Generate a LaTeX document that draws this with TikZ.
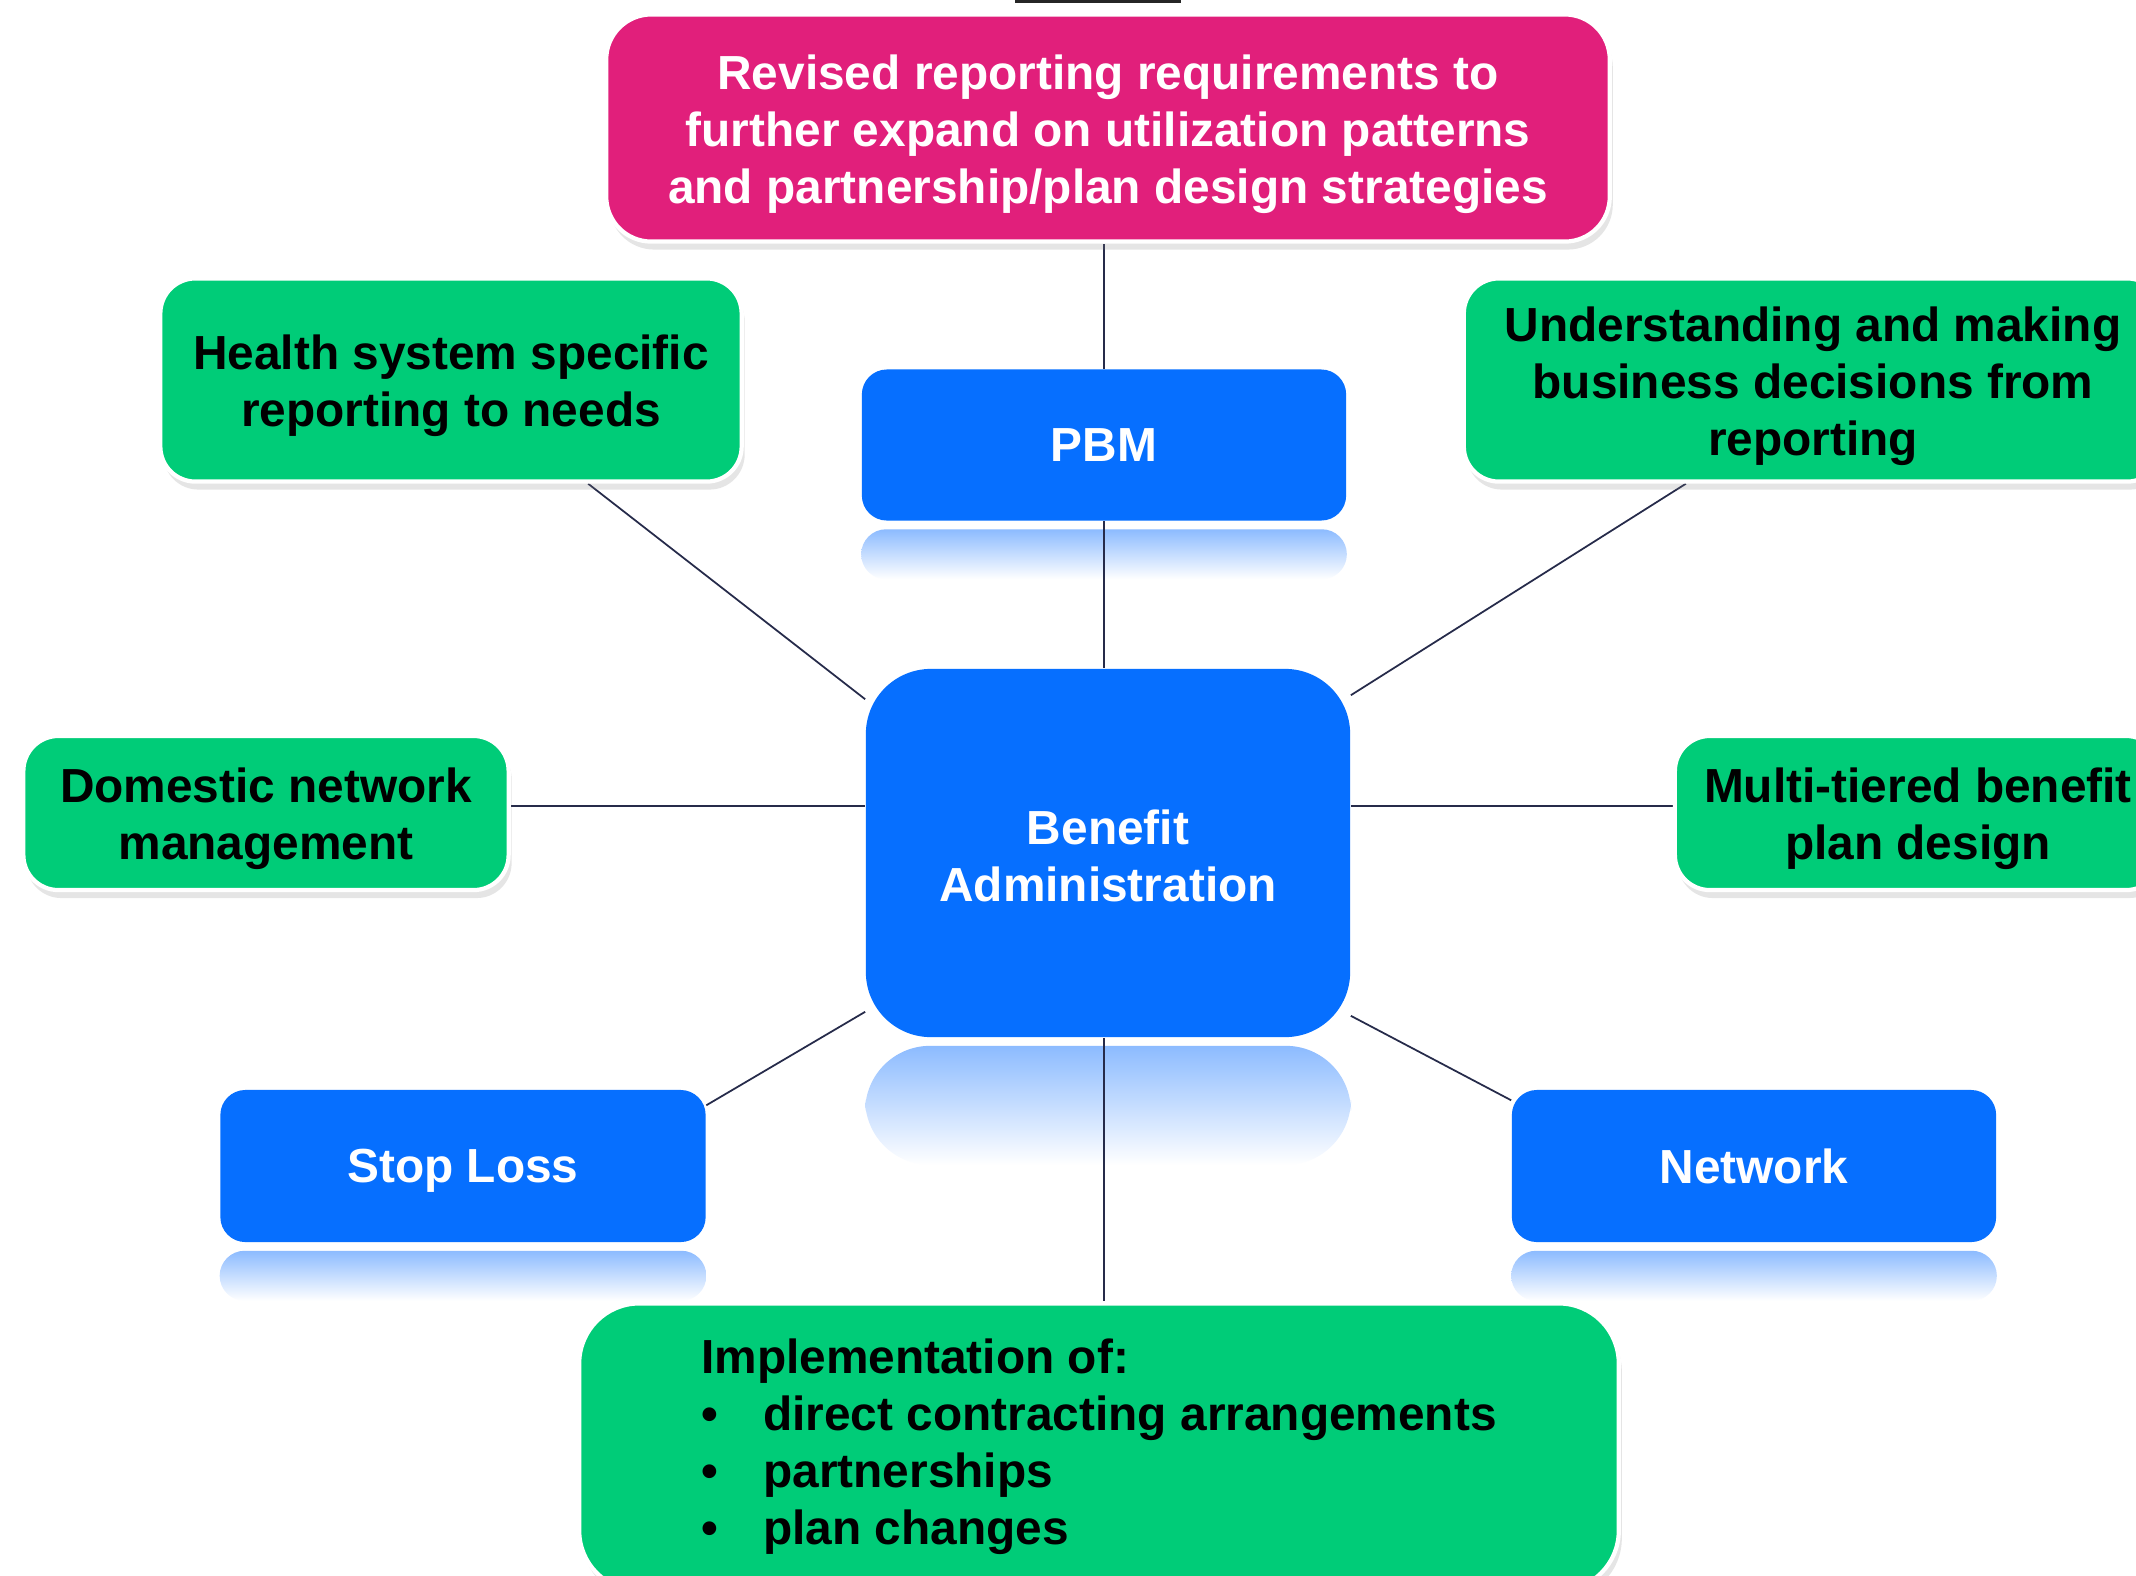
\documentclass[tikz,border=0pt]{standalone}
\usepackage{fontspec}
\setmainfont{Liberation Sans}
\usetikzlibrary{shadows}

\definecolor{cPink}{HTML}{E11F7B}
\definecolor{cBlue}{HTML}{066FFF}
\definecolor{cGreen}{HTML}{00CC78}
\definecolor{cLink}{HTML}{262B4A}
\definecolor{cMirror}{HTML}{8CBBFF}

% first line as tall as the slide's line box
\newcommand{\tstrut}[1][13.2pt]{\rule{0pt}{#1}}

\pgfdeclarelayer{back}
\pgfdeclarelayer{background}
\pgfsetlayers{back,background,main}

\begin{document}
\begin{tikzpicture}[
    x=0.01cm, y=-0.01cm,
    every node/.style={rectangle, align=center, inner sep=0pt, font=\bfseries\fontsize{13.6}{16.2}\selectfont},
    bluenode/.style={fill=cBlue, text=white, rounded corners=0.25cm},
    greennode/.style={fill=cGreen, text=black, draw=white, line width=1.2pt, rounded corners=0.35cm,
        drop shadow={opacity=0.2, shadow xshift=0.03cm, shadow yshift=-0.08cm}},
    pinknode/.style={greennode, fill=cPink, text=white, rounded corners=0.45cm},
    link/.style={draw=cLink, line width=0.5pt},
    mirror/.style={top color=cMirror, bottom color=white}
]

\useasboundingbox (0,0) rectangle (2136,1575);

\node[pinknode, minimum width=10.03cm, minimum height=2.27cm] (revised) at (1108,128)
    {\tstrut Revised reporting requirements to\\further expand on utilization patterns\\and partnership/plan design strategies};
\node[bluenode, minimum width=4.84cm, minimum height=1.51cm] (pbm) at (1104,445) {PBM};
\node[bluenode, minimum width=4.84cm, minimum height=3.68cm, rounded corners=0.65cm] (admin) at (1108,853) {\tstrut[11.6pt]Benefit\\Administration};
\node[greennode, minimum width=5.81cm, minimum height=2.03cm] (health) at (451,380) {\tstrut Health system specific\\reporting to needs};
\node[greennode, minimum width=6.98cm, minimum height=2.03cm] (understand) at (1813,380) {\tstrut Understanding and making\\business decisions from\\reporting};
\node[greennode, minimum width=4.85cm, minimum height=1.54cm] (domestic) at (266,813) {\tstrut Domestic network\\management};
\node[greennode, minimum width=4.86cm, minimum height=1.54cm] (tiered) at (1918,813) {\tstrut Multi-tiered benefit\\plan design};
\node[bluenode, minimum width=4.85cm, minimum height=1.52cm] (stoploss) at (463,1166) {\tstrut[12.4pt]Stop Loss};
\node[bluenode, minimum width=4.84cm, minimum height=1.52cm] (network) at (1754,1166) {Network};
\node[greennode, minimum width=10.39cm, minimum height=2.87cm, rounded corners=0.6cm, align=left] (impl) at (1099,1447)
    {Implementation of:\\
     \makebox[0.62cm][l]{\textbullet}direct contracting arrangements\\
     \makebox[0.62cm][l]{\textbullet}partnerships\\
     \makebox[0.62cm][l]{\textbullet}plan changes};

% bar cut off at the top edge
\fill[black!85] (1015,0) rectangle (1181,3);

\begin{pgfonlayer}{back}
\fill[white] (0,0) rectangle (2136,1575);
\foreach \n/\h/\r in {pbm/0.5/0.25, stoploss/0.5/0.25, network/0.5/0.25, admin/1.19/0.65}
    \shade[mirror, rounded corners=\r cm] ([yshift=-0.08cm]\n.south west) rectangle ([yshift=-0.08cm-\h cm]\n.south east);
\end{pgfonlayer}

\begin{pgfonlayer}{background}
\draw[link] (pbm.north) -- (pbm.north |- revised.south);
\draw[link] (pbm) -- (pbm |- admin.north);
\draw[link] (admin.south -| pbm) -- (impl.north -| pbm);
\draw[link] ([xshift=1.37cm]health.south) -- ([yshift=-0.31cm]admin.north west);
\draw[link] ([xshift=-1.27cm]understand.south) -- ([yshift=-0.27cm]admin.north east);
\draw[link] ([yshift=0.07cm]domestic.east) -- ([yshift=0.07cm]domestic.east -| admin.west);
\draw[link] ([yshift=0.07cm]admin.east |- tiered.west) -- ([yshift=0.07cm]tiered.west);
\draw[link] ([yshift=-0.16cm]stoploss.north east) -- ([yshift=0.26cm]admin.south west);
\draw[link] ([yshift=-0.11cm]network.north west) -- ([yshift=0.22cm]admin.south east);
\end{pgfonlayer}

\end{tikzpicture}
\end{document}
